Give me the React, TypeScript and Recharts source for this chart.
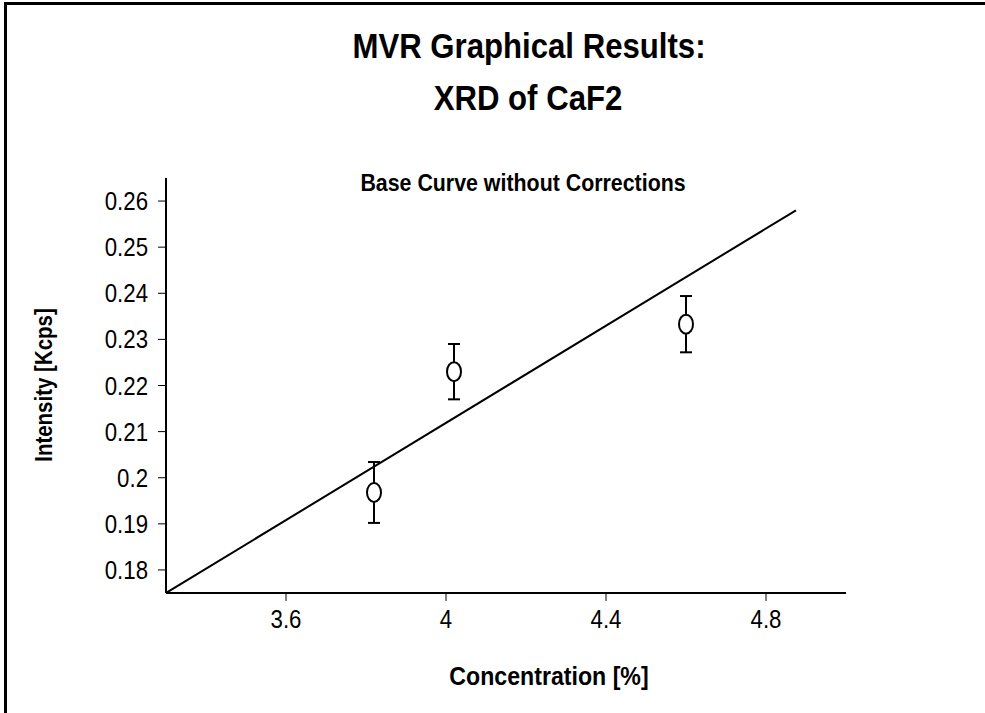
import { ErrorBar, Scatter, ScatterChart, XAxis, YAxis } from "recharts";

// measured points (concentration %, intensity kcps, error)
const concentration = [3.82, 4.02, 4.6];
const intensity = [0.1968, 0.223, 0.2333];
const intensityErr = [0.0066, 0.006, 0.0061];

// base curve end points
const fitX = [3.3, 4.875];
const fitY = [0.175, 0.258];

const xTicks = [3.6, 4, 4.4, 4.8];
const yTicks = [0.18, 0.19, 0.2, 0.21, 0.22, 0.23, 0.24, 0.25, 0.26];

const points = concentration.map((x, i) => ({ x, y: intensity[i], err: intensityErr[i] }));
const fitLine = fitX.map((x, i) => ({ x, y: fitY[i] }));

const FONT = '"Liberation Sans", Arial, sans-serif';
const SX = 0.89; // text in the original is a bit condensed

function OpenEllipse(props: any) {
  const { cx, cy } = props;
  if (cx == null || cy == null) return <g />;
  return <ellipse cx={cx} cy={cy} rx={7} ry={9.5} fill="#fff" stroke="#000" strokeWidth={2} />;
}

function XTick(props: any) {
  const { x, y, payload } = props;
  return (
    <text
      transform={`translate(${x},${y}) scale(${SX},1)`}
      textAnchor="middle"
      dy="0.71em"
      fontSize={25}
      fontFamily={FONT}
      fill="#000"
    >
      {String(payload.value)}
    </text>
  );
}

function YTick(props: any) {
  const { x, y, payload } = props;
  return (
    <text
      transform={`translate(${x},${y}) scale(${SX},1)`}
      textAnchor="end"
      dy="0.36em"
      fontSize={25}
      fontFamily={FONT}
      fill="#000"
    >
      {String(payload.value)}
    </text>
  );
}

function Label({ x, y, size, text, rotate }: { x: number; y: number; size: number; text: string; rotate?: boolean }) {
  return (
    <div
      style={{
        position: "absolute",
        left: x,
        top: y,
        transform: rotate
          ? `translate(-50%, -50%) rotate(-90deg) scale(${SX},1)`
          : `translate(-50%, -50%) scale(${SX},1)`,
        whiteSpace: "nowrap",
        fontFamily: FONT,
        fontWeight: "bold",
        fontSize: size,
        color: "#000",
        lineHeight: 1,
      }}
    >
      {text}
    </div>
  );
}

export default function App() {
  return (
    <div style={{ position: "absolute", left: 0, top: 0, width: 985, height: 713, background: "#fff", overflow: "hidden" }}>
      <div
        style={{
          position: "absolute",
          left: 4,
          top: 2,
          width: 990,
          height: 720,
          borderLeft: "3px solid #000",
          borderTop: "3px solid #000",
        }}
      />
      <ScatterChart width={985} height={713} margin={{ top: 178, right: 139, bottom: 80, left: 86 }}>
        <XAxis
          type="number"
          dataKey="x"
          domain={[3.3, 5.0]}
          ticks={xTicks}
          allowDataOverflow
          tick={<XTick />}
          tickSize={8}
          tickMargin={9}
          height={40}
          axisLine={{ stroke: "#000", strokeWidth: 2 }}
          tickLine={{ stroke: "#000", strokeWidth: 1 }}
        />
        <YAxis
          type="number"
          dataKey="y"
          domain={[0.175, 0.265]}
          ticks={yTicks}
          allowDataOverflow
          tick={<YTick />}
          tickSize={8}
          tickMargin={10}
          width={80}
          axisLine={{ stroke: "#000", strokeWidth: 2 }}
          tickLine={{ stroke: "#000", strokeWidth: 1 }}
        />
        <Scatter data={points} shape={OpenEllipse} isAnimationActive={false}>
          <ErrorBar dataKey="err" direction="y" width={6} stroke="#000" strokeWidth={2} />
        </Scatter>
        <Scatter
          data={fitLine}
          line={{ stroke: "#000", strokeWidth: 2 }}
          shape={() => <g />}
          isAnimationActive={false}
        />
      </ScatterChart>
      <Label x={529} y={45} size={35} text="MVR Graphical Results:" />
      <Label x={528} y={97} size={35} text="XRD of CaF2" />
      <Label x={523} y={183} size={24} text="Base Curve without Corrections" />
      <Label x={549} y={676} size={26} text="Concentration [%]" />
      <Label x={44} y={385} size={23} text="Intensity [Kcps]" rotate />
    </div>
  );
}
